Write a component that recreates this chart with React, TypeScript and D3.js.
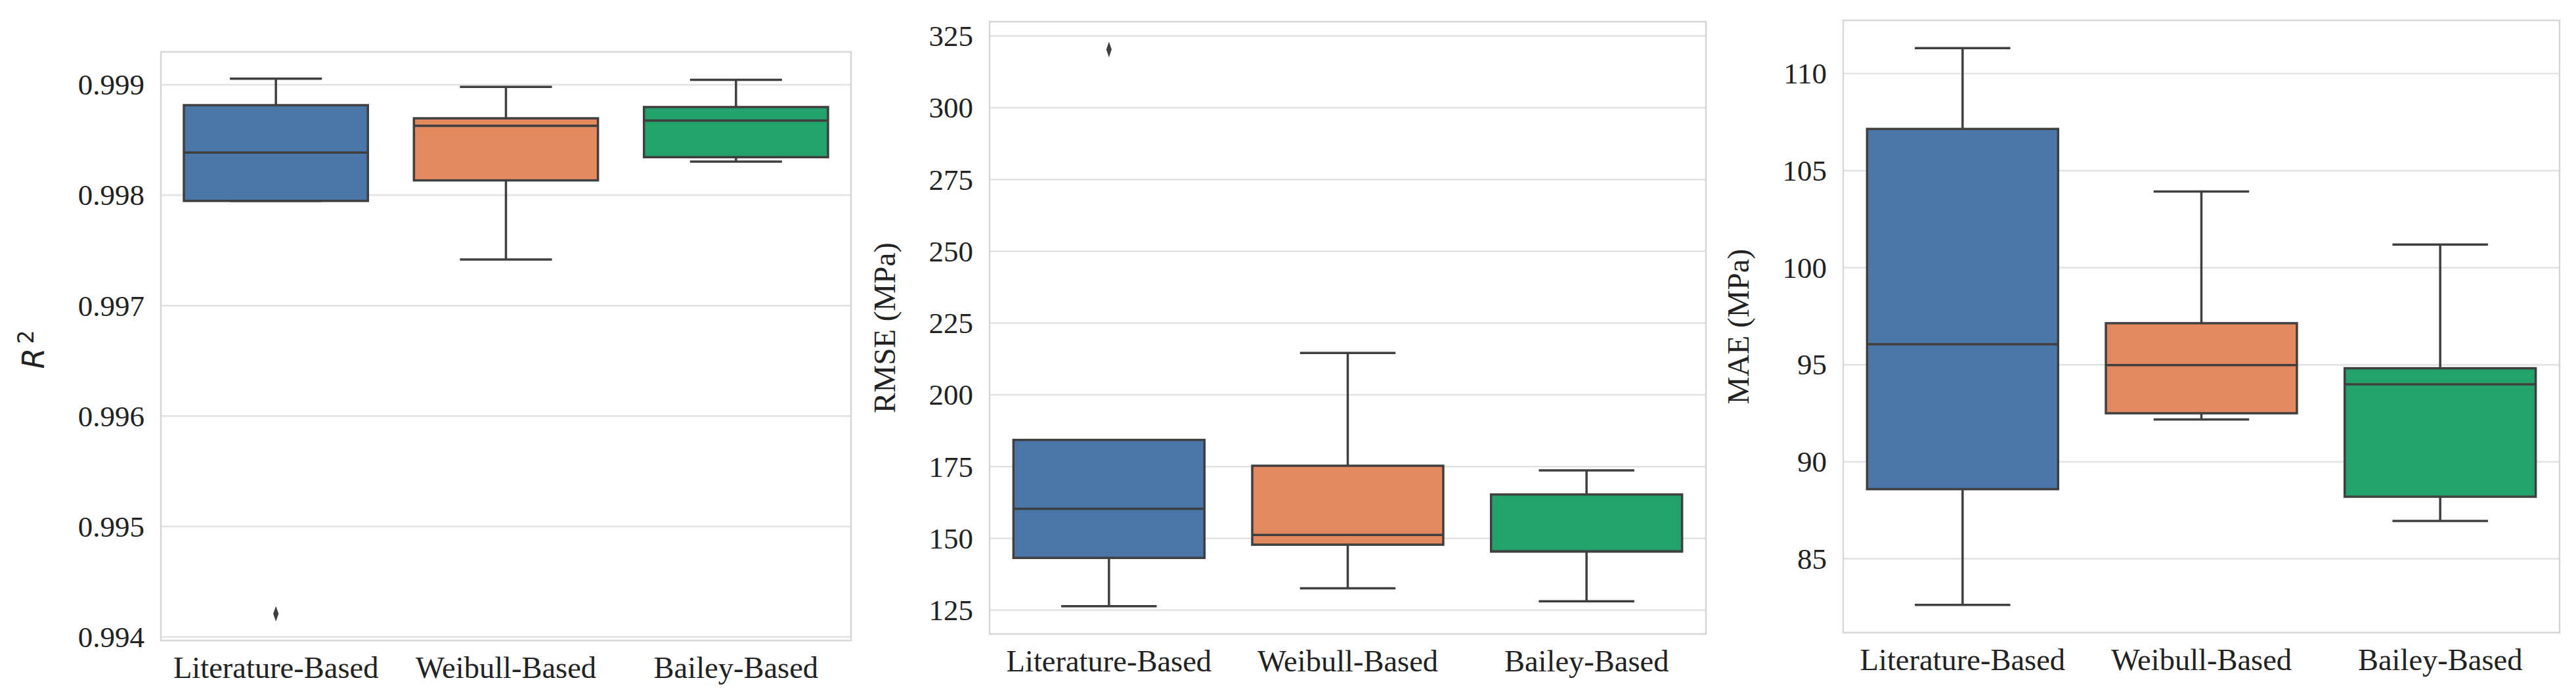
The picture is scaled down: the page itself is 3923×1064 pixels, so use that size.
import React from "react";
import * as d3 from "d3";

// ---------------- data ----------------
const categories = ["Literature-Based", "Weibull-Based", "Bailey-Based"];
const boxColors = ["#4A76A8", "#E2895F", "#23A26C"];

// R^2
const r2WhiskerLow = [0.997948, 0.997417, 0.998304];
const r2Q1 = [0.997948, 0.998134, 0.998344];
const r2Median = [0.998386, 0.998628, 0.998676];
const r2Q3 = [0.998815, 0.998696, 0.998798];
const r2WhiskerHigh = [0.999055, 0.99898, 0.999045];
const r2Outliers = [[0.99421], [], []];
const r2Ticks = [0.994, 0.995, 0.996, 0.997, 0.998, 0.999];

// RMSE (MPa)
const rmseWhiskerLow = [126.4, 132.6, 128.1];
const rmseQ1 = [143.2, 147.8, 145.4];
const rmseMedian = [160.3, 151.2, 145.5];
const rmseQ3 = [184.3, 175.3, 165.3];
const rmseWhiskerHigh = [184.3, 214.6, 173.7];
const rmseOutliers = [[320.3], [], []];
const rmseTicks = [125, 150, 175, 200, 225, 250, 275, 300, 325];

// MAE (MPa)
const maeWhiskerLow = [82.63, 92.18, 86.95];
const maeQ1 = [88.59, 92.5, 88.2];
const maeMedian = [96.06, 94.98, 93.99];
const maeQ3 = [107.15, 97.14, 94.82];
const maeWhiskerHigh = [111.31, 103.93, 101.19];
const maeOutliers = [[], [], []];
const maeTicks = [85, 90, 95, 100, 105, 110];

// ---------------- layout ----------------
const W = 3923;
const H = 1064;
const LINE = "#3F3F3F";
const GRID = "#E2E2E2";
const SPINE = "#D6D6D6";
const SERIF = "'Liberation Serif', 'Times New Roman', serif";

type PanelSpec = {
  left: number;
  right: number;
  top: number;
  bottom: number;
  lo: number[];
  q1: number[];
  med: number[];
  q3: number[];
  hi: number[];
  out: number[][];
  ticks: number[];
  fmt: (v: number) => string;
  label: string;
  labelX: number;
  math?: boolean;
};

const panels: PanelSpec[] = [
  {
    left: 245, right: 1296, top: 79, bottom: 975,
    lo: r2WhiskerLow, q1: r2Q1, med: r2Median, q3: r2Q3, hi: r2WhiskerHigh, out: r2Outliers,
    ticks: r2Ticks, fmt: d3.format(".3f"), label: "R", labelX: 67, math: true,
  },
  {
    left: 1507, right: 2598, top: 33, bottom: 965,
    lo: rmseWhiskerLow, q1: rmseQ1, med: rmseMedian, q3: rmseQ3, hi: rmseWhiskerHigh, out: rmseOutliers,
    ticks: rmseTicks, fmt: d3.format("d"), label: "RMSE (MPa)", labelX: 1363,
  },
  {
    left: 2807, right: 3898, top: 31, bottom: 963,
    lo: maeWhiskerLow, q1: maeQ1, med: maeMedian, q3: maeQ3, hi: maeWhiskerHigh, out: maeOutliers,
    ticks: maeTicks, fmt: d3.format("d"), label: "MAE (MPa)", labelX: 2663,
  },
];

function Panel({ p }: { p: PanelSpec }) {
  const all = [...p.lo, ...p.hi, ...p.out.flat()];
  const mn = d3.min(all) as number;
  const mx = d3.max(all) as number;
  const m = (mx - mn) * 0.05;
  const y = d3.scaleLinear().domain([mn - m, mx + m]).range([p.bottom, p.top]);
  const x = d3.scaleBand<string>().domain(categories).range([p.left, p.right]).padding(0);
  const bw = x.bandwidth();
  const boxW = bw * 0.8;
  const capW = boxW * 0.5;
  const cy = (p.top + p.bottom) / 2;
  const diamond = d3.symbol().type(d3.symbolDiamond).size(160)();

  return (
    <g>
      {/* gridlines */}
      {p.ticks.map((t) => (
        <line key={"g" + t} x1={p.left} x2={p.right} y1={y(t)} y2={y(t)} stroke={GRID} strokeWidth={2.5} />
      ))}
      {/* frame */}
      <rect x={p.left} y={p.top} width={p.right - p.left} height={p.bottom - p.top} fill="none" stroke={SPINE} strokeWidth={2.5} />
      {/* y tick labels */}
      {p.ticks.map((t) => (
        <text key={"t" + t} x={p.left - 25} y={y(t)} dy="0.34em" textAnchor="end" fontFamily={SERIF} fontSize={45} fill="#222">
          {p.fmt(t)}
        </text>
      ))}
      {/* x tick labels */}
      {categories.map((c) => (
        <text key={"x" + c} x={(x(c) as number) + bw / 2} y={p.bottom + 57} textAnchor="middle" fontFamily={SERIF} fontSize={46.5} fill="#222">
          {c}
        </text>
      ))}
      {/* boxes */}
      {categories.map((c, i) => {
        const cx = (x(c) as number) + bw / 2;
        return (
          <g key={"b" + c}>
            <line x1={cx} x2={cx} y1={y(p.hi[i])} y2={y(p.q3[i])} stroke={LINE} strokeWidth={3.5} />
            <line x1={cx} x2={cx} y1={y(p.q1[i])} y2={y(p.lo[i])} stroke={LINE} strokeWidth={3.5} />
            <line x1={cx - capW / 2} x2={cx + capW / 2} y1={y(p.hi[i])} y2={y(p.hi[i])} stroke={LINE} strokeWidth={3.5} />
            <line x1={cx - capW / 2} x2={cx + capW / 2} y1={y(p.lo[i])} y2={y(p.lo[i])} stroke={LINE} strokeWidth={3.5} />
            <rect x={cx - boxW / 2} y={y(p.q3[i])} width={boxW} height={y(p.q1[i]) - y(p.q3[i])} fill={boxColors[i]} stroke={LINE} strokeWidth={3.5} />
            <line x1={cx - boxW / 2} x2={cx + boxW / 2} y1={y(p.med[i])} y2={y(p.med[i])} stroke={LINE} strokeWidth={3.5} />
            {p.out[i].map((v, j) => (
              <path key={j} d={diamond as string} transform={`translate(${cx},${y(v)}) scale(0.6,1)`} fill={LINE} />
            ))}
          </g>
        );
      })}
      {/* y label */}
      {p.math ? (
        <text transform={`translate(${p.labelX},${cy + 5}) rotate(-90)`} textAnchor="middle" fontFamily="'DejaVu Sans', sans-serif" fontSize={46} fill="#222">
          <tspan fontStyle="italic">R</tspan>
          <tspan fontSize={33} dx={6} dy={-16}>2</tspan>
        </text>
      ) : (
        <text transform={`translate(${p.labelX},${cy}) rotate(-90)`} textAnchor="middle" fontFamily={SERIF} fontSize={47} fill="#222">
          {p.label}
        </text>
      )}
    </g>
  );
}

export default function App() {
  return (
    <svg width={W} height={H} style={{ position: "absolute", left: 0, top: 0, background: "#fff" }}>
      <rect width={W} height={H} fill="#fff" />
      {panels.map((p, i) => (
        <Panel key={i} p={p} />
      ))}
    </svg>
  );
}
